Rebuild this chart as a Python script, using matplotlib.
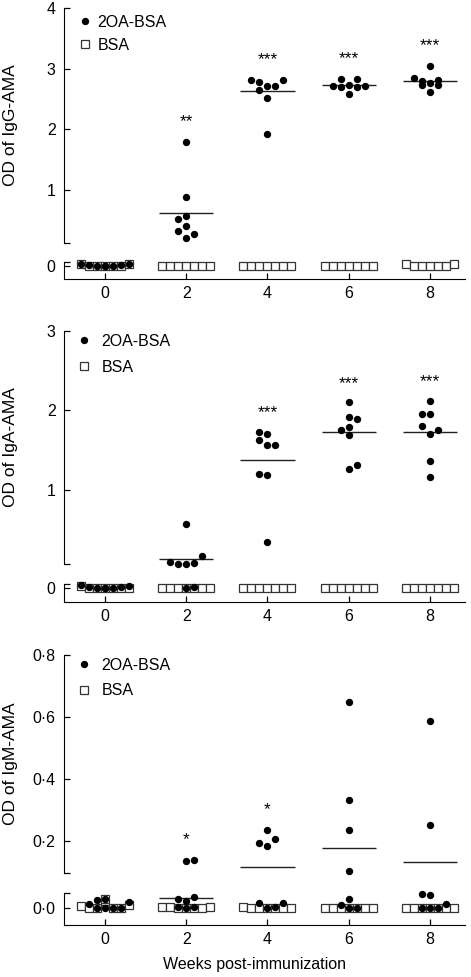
import numpy as np
import matplotlib
matplotlib.use('Agg')
import matplotlib.pyplot as plt
from matplotlib.lines import Line2D
import matplotlib.transforms as mtransforms

plt.rcParams['font.family'] = ['Liberation Sans', 'DejaVu Sans']

weeks = [0, 2, 4, 6, 8]
series_names = ['2OA-BSA', 'BSA']
xlabel = 'Weeks post-immunization'

# ---- IgG-AMA ----
igg_oa = [
    [0.03, 0.01, 0.0, 0.0, -0.01, 0.0, 0.01, 0.02],
    [1.78, 0.88, 0.56, 0.51, 0.40, 0.32, 0.26, 0.20],
    [2.81, 2.78, 2.81, 2.64, 2.71, 2.71, 2.52, 1.91],
    [2.71, 2.83, 2.69, 2.73, 2.58, 2.83, 2.69, 2.71],
    [3.04, 2.84, 2.80, 2.73, 2.76, 2.81, 2.73, 2.61],
]
igg_oa_slot = [
    [-3, -2, -1, 0, 0, 1, 2, 3],
    [0, 0, 0, -1, 0, -1, 1, 0],
    [-2, -1, 2, -1, 0, 1, 0, 0],
    [-2, -1, -1, 0, 0, 1, 1, 2],
    [0, -2, -1, -1, 0, 1, 1, 0],
]
igg_bsa = [
    [0.03, 0.0, 0.0, 0.0, 0.0, 0.0, 0.02],
    [0.0] * 7,
    [0.0] * 7,
    [0.0] * 7,
    [0.03, 0.0, 0.0, 0.0, 0.0, 0.0, 0.03],
]
igg_mean = [0.01, 0.62, 2.62, 2.73, 2.80]
igg_stars = ['', '**', '***', '***', '***']
igg_star_y = [0, 2.22, 3.25, 3.26, 3.47]
igg_ticks = [1, 2, 3, 4]
igg_ticklabels = ['1', '2', '3', '4']

# ---- IgA-AMA ----
iga_oa = [
    [0.03, 0.01, 0.0, 0.0, -0.01, 0.0, 0.01, 0.02],
    [0.57, 0.10, 0.07, 0.07, 0.09, 0.17, 0.0, 0.01],
    [1.73, 1.71, 1.63, 1.56, 1.56, 1.20, 1.19, 0.35],
    [2.10, 1.92, 1.89, 1.75, 1.79, 1.69, 1.27, 1.31],
    [2.12, 1.96, 1.95, 1.80, 1.76, 1.70, 1.37, 1.16],
]
iga_oa_slot = [
    [-3, -2, -1, 0, 0, 1, 2, 3],
    [0, -2, -1, 0, 1, 2, 0, 1],
    [-1, 0, -1, 0, 1, -1, 0, 0],
    [0, 0, 1, -1, 0, 0, 0, 1],
    [0, -1, 0, -1, 1, 0, 0, 0],
]
iga_bsa = [
    [0.02, 0.0, 0.0, 0.0, 0.0, 0.0, 0.0],
    [0.0] * 7,
    [0.0] * 7,
    [0.0] * 7,
    [0.0] * 7,
]
iga_mean = [0.01, 0.14, 1.38, 1.725, 1.73]
iga_stars = ['', '', '***', '***', '***']
iga_star_y = [0, 0, 2.05, 2.41, 2.44]
iga_ticks = [1, 2, 3]
iga_ticklabels = ['1', '2', '3']

# ---- IgM-AMA ----
igm_oa = [
    [0.014, 0.027, 0.029, 0.021, 0.0, 0.0, 0.0, 0.0],
    [0.136, 0.139, 0.031, 0.024, 0.036, 0.005, 0.005, 0.0],
    [0.195, 0.237, 0.208, 0.183, 0.016, 0.002, 0.005, 0.018],
    [0.649, 0.333, 0.237, 0.105, 0.031, 0.010, 0.0, 0.0],
    [0.588, 0.252, 0.045, 0.041, 0.002, 0.013, 0.0, 0.0],
]
igm_oa_slot = [
    [-2, -1, 0, 3, -1, 0, 1, 2],
    [0, 1, -1, 0, 1, -1, 1, 0],
    [-1, 0, 1, 0, -1, 0, 1, 2],
    [0, 0, 0, 0, 0, -1, 0, 1],
    [0, 0, -1, 0, -1, 2, 0, 1],
]
igm_bsa = [
    [0.008, 0.0, 0.0, 0.029, 0.0, 0.0, 0.012],
    [0.005, 0.003, 0.0, 0.0, 0.0, 0.002, 0.005],
    [0.005, 0.0, 0.0, 0.0, 0.0, 0.0, 0.0],
    [0.0] * 7,
    [0.0] * 7,
]
igm_mean = [0.010, 0.034, 0.115, 0.178, 0.134]
igm_stars = ['', '*', '*', '', '']
igm_star_y = [0, 0.225, 0.32, 0, 0]
igm_ticks = [0.2, 0.4, 0.6, 0.8]
igm_ticklabels = ['0·2', '0·4', '0·6', '0·8']

W, H = 471, 977
STEP = 0.197      # horizontal spacing of neighbouring symbols (weeks)
HALF = 0.67       # half width of mean bar


def px_axes(top, bottom, left=64, right=465):
    return [left / W, 1 - bottom / H, (right - left) / W, (bottom - top) / H]


def style_axes(ax):
    for s in ['top', 'right']:
        ax.spines[s].set_visible(False)
    ax.tick_params(direction='in', length=4, width=0.9, labelsize=11.5, pad=6)
    ax.set_xlim(-1.009, 8.862)


def draw_panel(fig, pos, ylab, oa, oa_slot, bsa, mean, stars, star_y,
               top_lim, top_ticks, top_labels, bot_lim, zero_label,
               leg, last=False):
    ax_t = fig.add_axes(px_axes(*pos[0]))
    ax_b = fig.add_axes(px_axes(*pos[1]))
    style_axes(ax_t)
    style_axes(ax_b)
    ax_t.spines['bottom'].set_visible(False)
    ax_t.set_xticks([])
    ax_t.set_ylim(*top_lim)
    ax_t.set_yticks([top_lim[0]] + top_ticks)
    ax_t.set_yticklabels([''] + top_labels)
    ax_b.set_ylim(*bot_lim)
    ax_b.set_yticks([0, bot_lim[1]])
    ax_b.set_yticklabels([zero_label, ''])
    ax_b.set_xticks(weeks)
    ax_b.set_xticklabels([str(w) for w in weeks])
    ax_b.tick_params(axis='x', pad=5)

    split = top_lim[0]
    for i, w in enumerate(weeks):
        v = np.array(oa[i])
        x = w + np.array(oa_slot[i]) * STEP
        b = np.array(bsa[i])
        xb = w + (np.arange(len(b)) - (len(b) - 1) / 2) * STEP
        for ax, so, sb in ((ax_t, v >= split, b >= split), (ax_b, v < split, b < split)):
            ax.plot(xb[sb], b[sb], 's', ms=6.0, mfc='white', mec='#333333',
                    mew=0.9, clip_on=False, zorder=3)
            ax.plot(x[so], v[so], 'o', ms=5.3, color='black', mew=0,
                    clip_on=False, zorder=4)
        ax_m = ax_t if mean[i] >= split else ax_b
        ax_m.hlines(mean[i], w - HALF, w + HALF, color='#222222', lw=1.0, zorder=2)
        if stars[i]:
            tr = mtransforms.offset_copy(ax_t.transData, fig=fig, y=-7.5, units='points')
            ax_t.text(w, star_y[i], stars[i], ha='center', va='baseline',
                      fontsize=12.5, transform=tr)

    ax_t.set_ylabel(ylab, fontsize=12.5)
    ax_t.yaxis.set_label_coords(-0.115, 0.5)

    # legend
    mx, my, tx, gap = leg
    top_px = pos[0][0]
    span = pos[0][1] - pos[0][0]
    fs = 11.5
    fpx = fs * 100 / 72
    hl = 0.8
    handles = [
        Line2D([], [], ls='none', marker='o', ms=5.3, color='black', mew=0),
        Line2D([], [], ls='none', marker='s', ms=6.0, mfc='white', mec='#333333', mew=0.9),
    ]
    ax_t.legend(handles, series_names, loc='upper left', frameon=False,
                fontsize=fs, handlelength=hl, borderpad=0, borderaxespad=0,
                handletextpad=(tx - mx - hl * fpx / 2) / fpx,
                labelspacing=(gap - 1.16 * fpx) / fpx,
                bbox_to_anchor=((mx - hl * fpx / 2 - 64) / 401,
                                1 - (my - 0.58 * fpx - top_px) / span))
    if last:
        ax_b.set_xlabel(xlabel, fontsize=11.5)
        ax_b.xaxis.set_label_coords(0.474, -0.99)
    return ax_t, ax_b


fig = plt.figure(figsize=(W / 100, H / 100), dpi=100)

draw_panel(fig, [(8, 242.7), (262, 279.3)], 'OD of IgG-AMA',
           igg_oa, igg_oa_slot, igg_bsa, igg_mean, igg_stars, igg_star_y,
           (0.121, 4.0), igg_ticks, igg_ticklabels, (-0.228, 0.058), '0',
           (85, 24.3, 97.3, 26))
draw_panel(fig, [(330.7, 564.3), (584, 601.7)], 'OD of IgA-AMA',
           iga_oa, iga_oa_slot, iga_bsa, iga_mean, iga_stars, iga_star_y,
           (0.069, 3.0), iga_ticks, iga_ticklabels, (-0.178, 0.044), '0',
           (84, 343.3, 101.7, 29))
draw_panel(fig, [(655, 872.7), (892.7, 925)], 'OD of IgM-AMA',
           igm_oa, igm_oa_slot, igm_bsa, igm_mean, igm_stars, igm_star_y,
           (0.098, 0.8), igm_ticks, igm_ticklabels, (-0.054, 0.05), '0·0',
           (84, 667, 101.7, 29), last=True)

fig.savefig('out.png', dpi=100)
